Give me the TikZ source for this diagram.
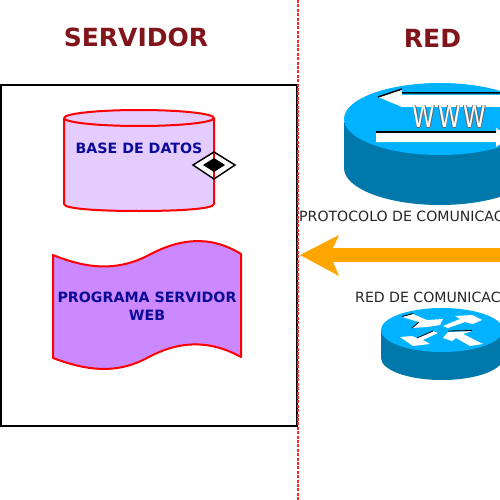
\documentclass[tikz,border=0pt]{standalone}
\usepackage{fontspec}
\setmainfont{DejaVu Sans}
\definecolor{darkred}{RGB}{128,21,28}
\definecolor{navytxt}{RGB}{10,10,150}
\definecolor{lilac}{RGB}{229,204,255}
\definecolor{purp}{RGB}{204,136,255}
\definecolor{cyantop}{RGB}{0,178,255}
\definecolor{cyanside}{RGB}{0,120,170}
\definecolor{orng}{RGB}{255,166,0}
\tikzset{
 heading/.style={text=darkred,font=\fontsize{25}{28}\selectfont\bfseries,inner sep=0pt},
 bluelabel/.style={text=navytxt,font=\fontsize{14.2}{18}\selectfont\bfseries,inner sep=0pt,align=center},
 graylabel/.style={text=black!85,font=\fontsize{14.1}{15}\selectfont,inner sep=0pt},
 redshape/.style={draw=red,line width=2pt,line join=round},
 blk/.style={draw=black,line width=1.5pt},
 wwwglyph/.style={inner sep=0pt,text=#1}
}
\newcommand{\wwwtext}{\scalebox{.76}[1]{\fontsize{30}{30}\selectfont\addfontfeatures{LetterSpace=12}WWW}}
\begin{document}
\begin{tikzpicture}[x=1pt,y=-1pt]
\useasboundingbox (0,0) rectangle (500,500);
\clip (0,0) rectangle (500,500);
\fill[white] (0,0) rectangle (500,500);
% headings
\node[heading] (servidor) at (136,37) {SERVIDOR};
\node[heading] (red) at (432.5,38) {RED};
% server box
\draw[black,line width=2pt] (1,85) rectangle (297,426);
% divider
\coordinate (divtop) at (298,0);
\coordinate (divbot) at (298,500);
\draw[red!85,line width=2pt,dash pattern=on 3pt off 1.4pt] (divtop) -- (divbot);
% database
\draw[redshape,fill=lilac] (64,118) -- (64,204) .. controls (64,209) and (100,211) .. (139,211) .. controls (178,211) and (214,209) .. (214,204) -- (214,118);
\draw[redshape,fill=lilac] (139,118) ellipse [x radius=75,y radius=8];
\node[bluelabel] (db) at (139,148.5) {BASE DE DATOS};
% diamond
\draw[black,line width=1.5pt,fill=white] (193,165) -- (214,152) -- (235,165) -- (214,179) -- cycle;
\draw[red,line width=1.5pt] (214,153) -- (214,178);
\fill[black] (203,165) -- (214,158) -- (225,165) -- (214,172) -- cycle;
% program
\draw[redshape,fill=purp] (53,255) .. controls (85,268) and (115,272) .. (147,256) .. controls (180,238) and (210,235) .. (241,254) -- (241,357) .. controls (210,340) and (180,340) .. (147,358) .. controls (115,375) and (85,370) .. (53,358) -- cycle;
\node[bluelabel] (prog) at (147,306) {PROGRAMA SERVIDOR\\WEB};
% www router
\fill[cyanside] (344,122) -- (344,168) arc[start angle=180,end angle=0,x radius=96,y radius=37] -- (536,122) -- cycle;
\fill[cyantop] (440,119) ellipse [x radius=96,y radius=36];
\fill[white] (378,97) -- (402,89) -- (402,95) -- (510,95) -- (510,107) -- (402,107) -- cycle;
\draw[blk] (378,97) -- (402,89) (402,93) -- (510,93);
\fill[white] (376,133) -- (496,133) -- (496,128) -- (510,137) -- (496,147) -- (496,142) -- (376,142) -- cycle;
\draw[blk] (376,132) -- (496,132);
\node[wwwglyph=black!60] (wwwa) at (450.2,116.5) {\wwwtext};
\node[wwwglyph=black!60] (wwwb) at (448.8,116.5) {\wwwtext};
\node[wwwglyph=black!60] (wwwc) at (449.5,117.2) {\wwwtext};
\node[wwwglyph=white] (www) at (449.5,116.3) {\wwwtext};
% labels
\node[graylabel,anchor=west] (proto) at (299,215.5) {PROTOCOLO DE COMUNICACIÓN};
\node[graylabel,anchor=west] (redcom) at (355,296.5) {RED DE COMUNICACIÓN};
% arrow
\fill[orng] (300,255) -- (339,235) -- (333,248) -- (510,248) -- (510,262) -- (333,262) -- (339,276) -- cycle;
% small router
\fill[cyanside] (381,330) -- (381,358) arc[start angle=180,end angle=0,x radius=61,y radius=22] -- (503,330) -- cycle;
\fill[cyantop] (442,330) ellipse [x radius=61,y radius=22];
\fill[white] (402,317) -- (413,314) -- (427,320) -- (443,319) -- (440,325) -- (427,327) -- (412,328) -- (419,322) -- cycle;
\fill[white] (482,320) -- (472,315) -- (455,316) -- (460,319) -- (443,326) -- (448,328) -- (465,322) -- (473,324) -- cycle;
\fill[white] (400,337) -- (413,346) -- (430,344) -- (423,340) -- (438,333) -- (433,331) -- (417,338) -- (412,336) -- cycle;
\fill[white] (443,338) -- (448,332) -- (472,331) -- (463,334) -- (483,344) -- (470,346) -- (456,338) -- (452,341) -- cycle;
\draw[black,line width=.8pt] (448,331) -- (472,330.5) (402,316.5) -- (413,313.5) (412,328) -- (419,322) (433,331) -- (417,338);
\end{tikzpicture}
\end{document}
